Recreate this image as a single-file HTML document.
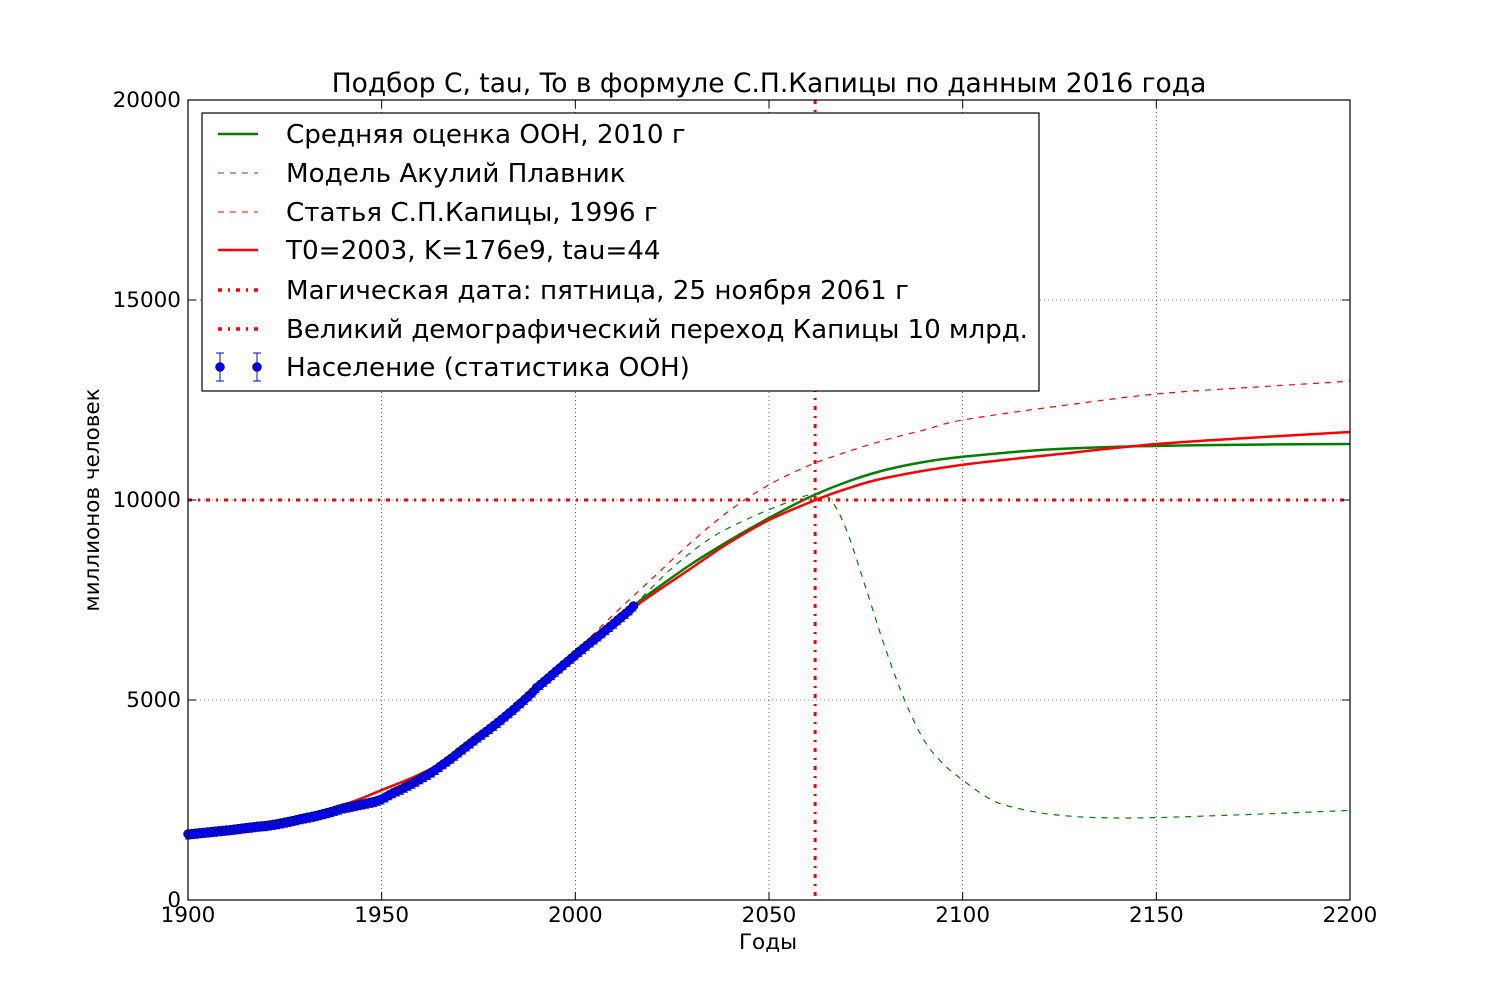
<!DOCTYPE html>
<html><head><meta charset="utf-8"><style>
body{margin:0;background:#fff}
svg{display:block;font-family:"DejaVu Sans","Liberation Sans",sans-serif}
</style></head><body>
<svg id="chart" width="1500" height="1000">
<rect width="1500" height="1000" fill="#fff"/>
<text x="769" y="92" font-size="26.5" text-anchor="middle">Подбор C, tau, To в формуле С.П.Капицы по данным 2016 года</text>
<g id="grid"></g>
<g id="plot"></g>
<rect x="188" y="100" width="1162" height="800" fill="none" stroke="#000" stroke-width="1.2"/>
<g id="ticks"></g>
<text x="768" y="949" font-size="21.5" text-anchor="middle">Годы</text>
<text transform="translate(99,500) rotate(-90)" font-size="21.5" text-anchor="middle">миллионов человек</text>
<g>
<rect x="202" y="113" width="837" height="278" fill="#fff" stroke="#000" stroke-width="1.2"/>
<g font-size="26.2">
<g><line x1="218" y1="134" x2="258" y2="134" stroke="#008000" stroke-width="2.5"/><text x="286" y="143">Средняя оценка ООН, 2010 г</text></g>
<g><line x1="218" y1="173" x2="258" y2="173" stroke="#008000" stroke-width="1" stroke-dasharray="6,6"/><text x="286" y="182">Модель Акулий Плавник</text></g>
<g><line x1="218" y1="212" x2="258" y2="212" stroke="#f00" stroke-width="1" stroke-dasharray="6,6"/><text x="286" y="221">Статья С.П.Капицы, 1996 г</text></g>
<g><line x1="218" y1="250" x2="258" y2="250" stroke="#f00" stroke-width="2.5"/><text x="286" y="259">T0=2003, K=176e9, tau=44</text></g>
<g><line x1="218" y1="290" x2="258" y2="290" stroke="#f00" stroke-width="3.5" stroke-dasharray="4,6,2,6"/><text x="286" y="299">Магическая дата: пятница, 25 ноября 2061 г</text></g>
<g><line x1="218" y1="329" x2="258" y2="329" stroke="#f00" stroke-width="3.5" stroke-dasharray="4,6,2,6"/><text x="286" y="338" textLength="742">Великий демографический переход Капицы 10 млрд.</text></g>
<g><line x1="220" y1="353" x2="220" y2="381" stroke="#00f"/><line x1="216" y1="353" x2="224" y2="353" stroke="#00f"/><line x1="216" y1="381" x2="224" y2="381" stroke="#00f"/><circle cx="220" cy="367" r="4.5" fill="#00f" stroke="#000" stroke-width="0.5"/><line x1="257" y1="353" x2="257" y2="381" stroke="#00f"/><line x1="253" y1="353" x2="261" y2="353" stroke="#00f"/><line x1="253" y1="381" x2="261" y2="381" stroke="#00f"/><circle cx="257" cy="367" r="4.5" fill="#00f" stroke="#000" stroke-width="0.5"/><text x="286" y="376">Население (статистика ООН)</text></g>
</g></g>
</svg>
<script>
const xTicks=[1900,1950,2000,2050,2100,2150,2200];
const yTicks=[0,5000,10000,15000,20000];
const popYears=[1900,1901,1902,1903,1904,1905,1906,1907,1908,1909,1910,1911,1912,1913,1914,1915,1916,1917,1918,1919,1920,1921,1922,1923,1924,1925,1926,1927,1928,1929,1930,1931,1932,1933,1934,1935,1936,1937,1938,1939,1940,1941,1942,1943,1944,1945,1946,1947,1948,1949,1950,1951,1952,1953,1954,1955,1956,1957,1958,1959,1960,1961,1962,1963,1964,1965,1966,1967,1968,1969,1970,1971,1972,1973,1974,1975,1976,1977,1978,1979,1980,1981,1982,1983,1984,1985,1986,1987,1988,1989,1990,1991,1992,1993,1994,1995,1996,1997,1998,1999,2000,2001,2002,2003,2004,2005,2006,2007,2008,2009,2010,2011,2012,2013,2014,2015];
const popValues=[1650,1660,1670,1680,1690,1700,1710,1720,1730,1740,1750,1760,1772,1784,1796,1808,1820,1832,1844,1852,1860,1875,1890,1905,1925,1945,1965,1985,2005,2030,2050,2070,2090,2110,2135,2160,2185,2210,2240,2270,2300,2320,2340,2360,2380,2400,2420,2440,2460,2490,2525,2575,2630,2680,2725,2770,2820,2870,2920,2970,3030,3085,3140,3200,3265,3335,3405,3475,3545,3620,3700,3775,3850,3925,4000,4075,4145,4215,4290,4365,4440,4520,4600,4680,4760,4850,4930,5020,5110,5200,5310,5390,5470,5550,5635,5720,5800,5885,5965,6045,6130,6210,6290,6370,6450,6525,6600,6680,6760,6840,6920,7005,7085,7165,7250,7350];
const unYears=[1950,1960,1970,1980,1990,2000,2010,2015,2020,2030,2040,2050,2060,2070,2080,2090,2100,2120,2140,2160,2180,2200];
const unValues=[2530,3030,3700,4440,5310,6130,6920,7350,7720,8400,9000,9550,10050,10450,10750,10950,11080,11250,11330,11370,11390,11400];
const fitYears=[1900,1920,1940,1950,1960,1970,1980,1990,2000,2010,2015,2020,2030,2040,2050,2062,2070,2080,2100,2125,2150,2175,2200];
const fitValues=[1650,1900,2380,2750,3150,3680,4400,5280,6150,6900,7300,7650,8300,8950,9500,10000,10280,10550,10880,11150,11400,11560,11700];
const kapYears=[1995,2000,2010,2020,2030,2040,2050,2060,2070,2080,2090,2100,2125,2150,2175,2200];
const kapValues=[5750,6200,7150,8050,8950,9750,10380,10850,11200,11500,11750,12000,12350,12650,12820,12970];
const finYears=[2015,2025,2035,2045,2055,2060,2063,2066,2070,2075,2080,2085,2090,2095,2100,2105,2110,2120,2130,2140,2150,2160,2180,2200];
const finValues=[7350,8300,9050,9550,9950,10120,10150,10000,9250,7800,6300,5000,4000,3400,3000,2650,2400,2180,2080,2050,2060,2090,2160,2240];
const magicDate=[2061.9];
const transitionLevel=[10000];

const X=v=>188+(v-1900)*1162/300, Y=v=>900-v*800/20000;
const NS="http://www.w3.org/2000/svg";
function mk(p,t,a){const e=document.createElementNS(NS,t);for(const k in a)e.setAttribute(k,a[k]);p.appendChild(e);return e;}
const grid=document.getElementById('grid'),plot=document.getElementById('plot'),ticks=document.getElementById('ticks');
xTicks.forEach(t=>{
 if(t>1900&&t<2200){const g=mk(grid,'line',{x1:X(t),x2:X(t),y1:100,y2:900,stroke:'#000','stroke-width':0.6,'stroke-dasharray':'1,3'});
 
 }
 mk(ticks,'line',{x1:X(t),x2:X(t),y1:900,y2:892,stroke:'#000'});
 mk(ticks,'line',{x1:X(t),x2:X(t),y1:100,y2:108,stroke:'#000'});
 const l=mk(ticks,'text',{x:X(t),y:922,'font-size':21.5,'text-anchor':'middle'});l.textContent=t;
 
 
});
yTicks.forEach(t=>{
 if(t>0&&t<20000){const g=mk(grid,'line',{x1:188,x2:1350,y1:Y(t),y2:Y(t),stroke:'#000','stroke-width':0.6,'stroke-dasharray':'1,3'});
 
 }
 mk(ticks,'line',{x1:188,x2:196,y1:Y(t),y2:Y(t),stroke:'#000'});
 mk(ticks,'line',{x1:1350,x2:1342,y1:Y(t),y2:Y(t),stroke:'#000'});
 const l=mk(ticks,'text',{x:181,y:Y(t)+7,'font-size':21.5,'text-anchor':'end'});l.textContent=t;
 
 
});
function line(xs,ys,st,name){
 const P=xs.map((x,i)=>[X(x),Y(ys[i])]);
 let d='M'+P[0][0].toFixed(1)+','+P[0][1].toFixed(1);
 for(let i=0;i<P.length-1;i++){
  const p0=P[Math.max(0,i-1)],p1=P[i],p2=P[i+1],p3=P[Math.min(P.length-1,i+2)];
  const c1=[p1[0]+(p2[0]-p0[0])/6,p1[1]+(p2[1]-p0[1])/6],c2=[p2[0]-(p3[0]-p1[0])/6,p2[1]-(p3[1]-p1[1])/6];
  d+=`C${c1[0].toFixed(1)},${c1[1].toFixed(1)} ${c2[0].toFixed(1)},${c2[1].toFixed(1)} ${p2[0].toFixed(1)},${p2[1].toFixed(1)}`;
 }
 const p=mk(plot,'path',Object.assign({d:d,fill:'none'},st));
 
 
}
line(kapYears,kapValues,{stroke:'#f00','stroke-width':1.2,'stroke-dasharray':'6,6'},'kapitsa-1996-line');
line(finYears,finValues,{stroke:'#008000','stroke-width':1.2,'stroke-dasharray':'6,6'},'shark-fin-line');
line(unYears,unValues,{stroke:'#008000','stroke-width':2.5},'un-2010-line');
line(fitYears,fitValues,{stroke:'#f00','stroke-width':2.5},'fit-line');
const h=mk(plot,'line',{x1:188,x2:1350,y1:Y(transitionLevel[0]),y2:Y(transitionLevel[0]),stroke:'#f00','stroke-width':3,'stroke-dasharray':'4,6,2,6'});


const v=mk(plot,'line',{x1:X(magicDate[0]),x2:X(magicDate[0]),y1:100,y2:900,stroke:'#f00','stroke-width':3,'stroke-dasharray':'4,6,2,6'});


popYears.forEach((yr,i)=>{
 const x=X(yr),y=Y(popValues[i]);
 const e=mk(plot,'path',{d:`M${x},${y-3}V${y+5}M${x-3},${y+5}h6`,stroke:'#00f','stroke-width':1});
 
 
 const c=mk(plot,'circle',{cx:x,cy:y,r:4.5,fill:'#00f',stroke:'#000','stroke-width':0.5});
 
 
});
</script>
</body></html>
